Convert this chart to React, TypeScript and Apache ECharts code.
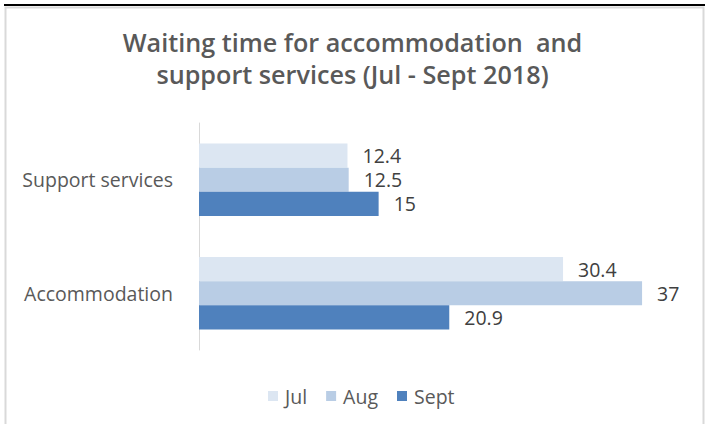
import React, { useEffect, useRef } from "react";
import * as echarts from "echarts";

const categories = ["Accommodation", "Support services"];
const seriesNames = ["Jul", "Aug", "Sept"];
const julValues = [30.4, 12.4];
const augValues = [37, 12.5];
const septValues = [20.9, 15];
const colors = ["#dce6f2", "#b9cde5", "#4f81bd"];

export default function App() {
  const ref = useRef<HTMLDivElement>(null);
  useEffect(() => {
    const chart = echarts.init(ref.current!, null, { renderer: "svg" });
    const font = "'Open Sans', sans-serif";
    const data = [julValues, augValues, septValues];
    chart.setOption({
      animation: false,
      backgroundColor: "#ffffff",
      textStyle: { fontFamily: font },
      title: {
        text: "Waiting time for accommodation  and\nsupport services (Jul - Sept 2018)",
        left: "center",
        top: 21,
        textStyle: {
          fontFamily: font,
          fontSize: 25.2,
          fontWeight: 600,
          color: "#595959",
          lineHeight: 32,
        },
      },
      legend: {
        data: seriesNames,
        bottom: 13,
        left: 263,
        itemWidth: 10,
        itemHeight: 10,
        itemGap: 19,
        icon: "rect",
        textStyle: {
          fontFamily: font,
          fontSize: 19.5,
          color: "#595959",
          padding: [0, 0, 0, 2],
        },
      },
      grid: { left: 199, right: 27, top: 123, bottom: 74, containLabel: false },
      xAxis: {
        type: "value",
        min: 0,
        max: 40,
        show: false,
        splitLine: { show: false },
      },
      yAxis: {
        type: "category",
        data: categories,
        axisLine: { show: true, lineStyle: { color: "#d9d9d9", width: 1 } },
        axisTick: { show: false },
        axisLabel: { fontFamily: font, fontSize: 19.5, color: "#595959", margin: 26 },
      },
      series: seriesNames.map((name, i) => ({
        name,
        type: "bar",
        data: data[i],
        barGap: "0%",
        barCategoryGap: "36%",
        itemStyle: { color: colors[i] },
        label: {
          show: true,
          position: "right",
          distance: 15,
          fontFamily: font,
          fontSize: 19.5,
          color: "#404040",
        },
      })),
      graphic: [
        {
          type: "rect",
          shape: { x: 5.5, y: 7.5, width: 698, height: 420 },
          style: { fill: "none", stroke: "#d9d9d9", lineWidth: 2 },
          silent: true,
        },
        {
          type: "line",
          shape: { x1: 4, y1: 5, x2: 705, y2: 5 },
          style: { stroke: "#000000", lineWidth: 2 },
          silent: true,
        },
      ],
    });
    return () => chart.dispose();
  }, []);
  return (
    <div
      ref={ref}
      style={{ position: "fixed", left: 0, top: 0, width: 705, height: 424 }}
    />
  );
}
